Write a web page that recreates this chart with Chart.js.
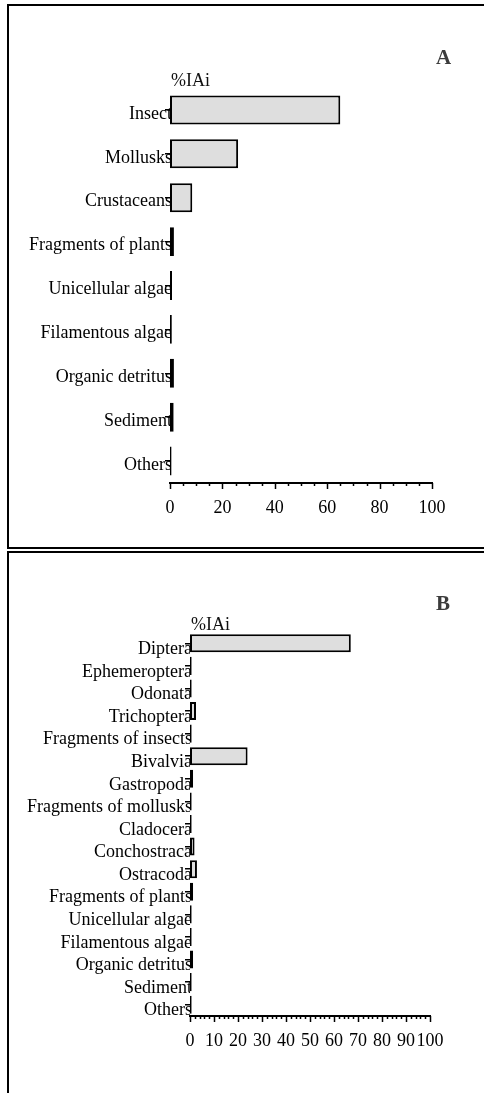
<!DOCTYPE html>
<html>
<head>
<meta charset="utf-8">
<script src="https://cdn.jsdelivr.net/npm/chart.js@4/dist/chart.umd.min.js"></script>
<style>
html,body{margin:0;padding:0;background:#fff;width:484px;height:1093px;overflow:hidden}
body{position:relative;font-family:"Liberation Serif","Times New Roman",serif}
.frame{position:absolute;border:2px solid #000;box-sizing:border-box}
#frA{left:7px;top:4px;width:520px;height:545px}
#frB{left:7px;top:551px;width:520px;height:600px;border-right:none;border-bottom:none}
canvas{position:absolute;left:0}
.ttl{position:absolute;font-size:18px;color:#111;line-height:1}
.lt{position:absolute;font-size:21px;font-weight:bold;color:#3c3c3c;line-height:1}
</style>
</head>
<body>
<div class="frame" id="frA"></div>
<div class="frame" id="frB"></div>
<canvas id="cA" width="484" height="548" style="top:0"></canvas>
<canvas id="cB" width="484" height="541" style="top:552px"></canvas>
<div class="ttl" style="left:171px;top:71px">%IAi</div>
<div class="lt" style="left:436px;top:47px">A</div>
<div class="ttl" style="left:191px;top:615px">%IAi</div>
<div class="lt" style="left:436px;top:593px">B</div>
<script>
// painel A - categorias gerais
const catsA=['Insect','Mollusks','Crustaceans','Fragments of plants','Unicellular algae','Filamentous algae','Organic detritus','Sediment','Others'];
const valsA=[65,26,8.5,1.5,0.8,0.7,1.5,1.4,0.6];
const ticksA=[0,20,40,60,80,100];

// painel B - itens detalhados
const catsB=['Diptera','Ephemeroptera','Odonata','Trichoptera','Fragments of insects','Bivalvia','Gastropoda','Fragments of mollusks','Cladocera','Conchostraca','Ostracoda','Fragments of plants','Unicellular algae','Filamentous algae','Organic detritus','Sediment','Others'];
const valsB=[67,0.7,0.7,2.5,0.7,24,1.3,0.7,0.7,1.9,2.9,1.3,0.7,0.7,1.3,0.7,0.7];
const ticksB=[0,10,20,30,40,50,60,70,80,90,100];

const FONT='"Liberation Serif","Times New Roman",serif';

// marcas do eixo x (maiores e menores)
const xTicks={id:'xTicks',afterDraw(chart,args,o){
  const s=chart.scales.x,c=chart.ctx,y=s.top;
  c.save();c.strokeStyle='#000';c.lineWidth=1.5;
  for(let v=s.min;v<=s.max+1e-6;v+=o.minor){
    const px=Math.round(s.getPixelForValue(v))+0.5;
    const len=(Math.abs(v%o.major)<1e-6)?6:3;
    c.beginPath();c.moveTo(px,y);c.lineTo(px,y+len);c.stroke();
  }
  c.restore();
}};

function mk(id,cats,vals,ticks,o){
  return new Chart(document.getElementById(id),{
    type:'bar',
    data:{labels:cats,datasets:[{data:vals,backgroundColor:'#dedede',borderColor:'#000',borderWidth:2,
      barPercentage:o.bp,categoryPercentage:1,borderSkipped:false}]},
    options:{indexAxis:'y',responsive:false,animation:false,
      layout:{padding:{left:0,right:o.right,top:o.top,bottom:0}},
      plugins:{legend:{display:false},tooltip:{enabled:false},xTicks:{minor:o.minor,major:o.major}},
      scales:{
        x:{type:'linear',min:0,max:100,
          afterBuildTicks:s=>{s.ticks=ticks.map(v=>({value:v}))},
          afterFit:s=>{s.height=o.xh},
          grid:{display:false},border:{display:true,color:'#000',width:2},
          ticks:{autoSkip:false,maxRotation:0,color:'#000',padding:o.xpad,font:{family:FONT,size:18}}},
        y:{afterFit:s=>{s.width=o.left},
          grid:{display:true,drawOnChartArea:false,offset:false,tickLength:5,lineWidth:1.5,color:'#000'},
          border:{display:false},
          ticks:{autoSkip:false,color:'#000',padding:-7,labelOffset:o.lo,font:{family:FONT,size:18}}}
      }},
    plugins:[xTicks]
  });
}

mk('cA',catsA,valsA,ticksA,{bp:0.66,right:52,top:88,left:170,xh:65,xpad:6,minor:5,major:20,lo:4});
mk('cB',catsB,valsB,ticksB,{bp:0.8,right:54,top:80,left:190,xh:77,xpad:6,minor:2,major:10,lo:6});
</script>
</body>
</html>
